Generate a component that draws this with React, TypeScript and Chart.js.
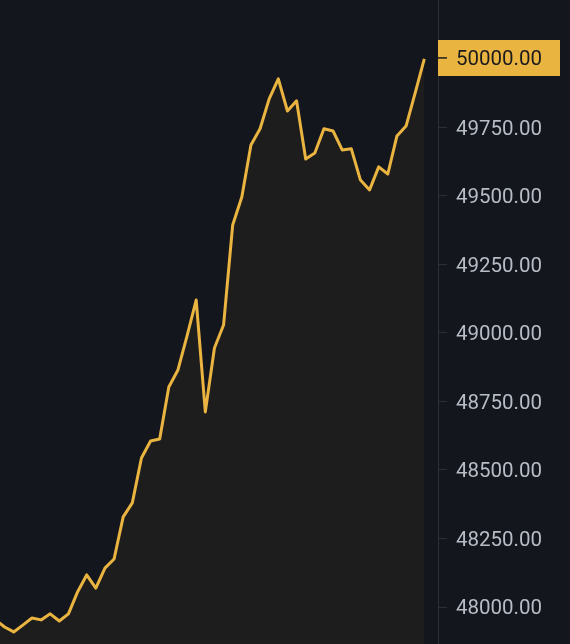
import React, { useEffect, useRef } from "react";
import { Chart, registerables } from "chart.js";

Chart.register(...registerables);

// Price series (one point per period); first point sits just left of the visible area
const prices: number[] = [
  47953, 47927, 47909, 47934, 47960, 47953, 47975, 47949, 47975, 48055,
  48117, 48069, 48142, 48175, 48329, 48380, 48544, 48606, 48613, 48803,
  48865, 48989, 49120, 48712, 48945, 49029, 49394, 49496, 49686, 49745,
  49854, 49927, 49810, 49847, 49635, 49657, 49745, 49737, 49668, 49672,
  49558, 49522, 49606, 49580, 49719, 49755, 49876, 50000,
];
const periods: number[] = prices.map((_, i) => i);
const yTicks: number[] = [48000, 48250, 48500, 48750, 49000, 49250, 49500, 49750, 50000];
const lastPriceLabel = "50000.00";

const BG = "#14161d";
const LINE = "#eab440";
const AXIS = "#2a2f3b";
const FONT = "Roboto";
const FONT_SIZE = 20.5;

export default function App() {
  const ref = useRef<HTMLCanvasElement | null>(null);

  useEffect(() => {
    document.body.style.margin = "0";
    document.body.style.background = BG;
    const canvas = ref.current;
    if (!canvas) return;

    const bgPlugin = {
      id: "bg",
      beforeDraw(chart: any) {
        const ctx = chart.ctx;
        ctx.save();
        ctx.fillStyle = BG;
        ctx.fillRect(0, 0, chart.width, chart.height);
        ctx.restore();
      },
    };

    const lastPricePlugin = {
      id: "lastPrice",
      afterDraw(chart: any) {
        const ctx = chart.ctx;
        const y = chart.scales.y.getPixelForValue(prices[prices.length - 1]);
        const left = chart.chartArea.right;
        const h = 36;
        ctx.save();
        ctx.fillStyle = LINE;
        ctx.fillRect(left, Math.round(y - h / 2) - 1, 122, h);
        ctx.strokeStyle = "#1b1b1d";
        ctx.lineWidth = 1.5;
        ctx.beginPath();
        ctx.moveTo(left, y - 1);
        ctx.lineTo(left + 9, y - 1);
        ctx.stroke();
        ctx.fillStyle = "#1b1b1d";
        ctx.font = `${FONT_SIZE}px ${FONT}`;
        ctx.textBaseline = "middle";
        ctx.textAlign = "left";
        ctx.fillText(lastPriceLabel, left + 18, y + 1);
        ctx.restore();
      },
    };

    const chart = new Chart(canvas, {
      type: "line",
      data: {
        datasets: [
          {
            data: periods.map((p, i) => ({ x: p, y: prices[i] })),
            borderColor: LINE,
            borderWidth: 3,
            backgroundColor: "rgba(234,180,64,0.05)",
            fill: "start",
            pointRadius: 0,
            tension: 0,
            borderJoinStyle: "round",
          },
        ],
      },
      options: {
        animation: false,
        responsive: true,
        maintainAspectRatio: false,
        layout: { padding: 0 },
        plugins: { legend: { display: false }, tooltip: { enabled: false } },
        scales: {
          x: {
            type: "linear",
            display: false,
            min: 0.5,
            max: 48.5,
          },
          y: {
            type: "linear",
            position: "right",
            min: 47865,
            max: 50215,
            afterBuildTicks(scale: any) {
              scale.ticks = yTicks.map((v) => ({ value: v }));
            },
            afterFit(scale: any) {
              scale.width = 132;
              scale.paddingTop = 0;
              scale.paddingBottom = 0;
            },
            border: { display: true, color: AXIS, width: 1 },
            grid: {
              drawOnChartArea: false,
              drawTicks: true,
              tickLength: 9,
              color: AXIS,
              tickColor: AXIS,
            },
            ticks: {
              color: "#b7bdc6",
              padding: 9,
              labelOffset: 2,
              font: { family: FONT, size: FONT_SIZE },
              callback: (v: any) => Number(v).toFixed(2),
            },
          },
        },
      },
      plugins: [bgPlugin, lastPricePlugin],
    });

    return () => chart.destroy();
  }, []);

  return (
    <div style={{ position: "absolute", left: 0, top: 0, width: 570, height: 644, background: BG }}>
      <canvas ref={ref} />
    </div>
  );
}
